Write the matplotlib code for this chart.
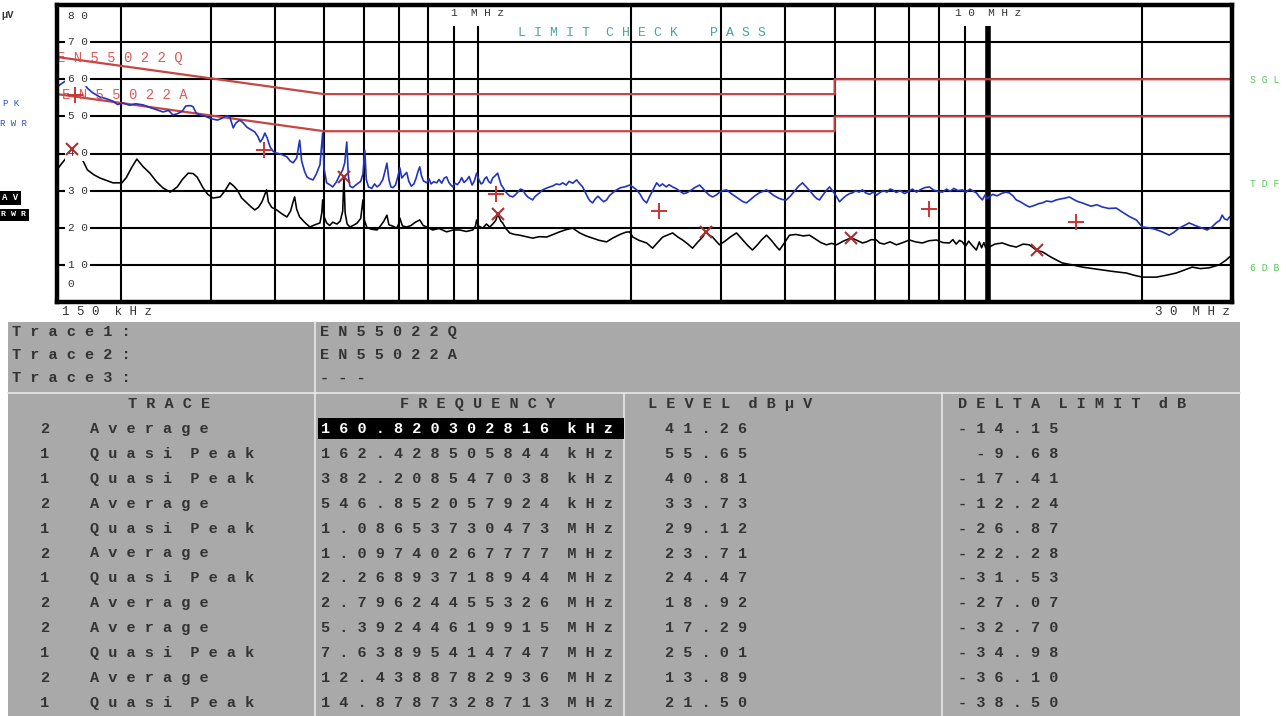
import matplotlib
matplotlib.use("Agg")
import matplotlib.pyplot as plt
from matplotlib.patches import Rectangle
from matplotlib.transforms import blended_transform_factory

W, H = 1286, 716
MONO = "Liberation Mono"

# ---- scan traces (MHz, dBuV) ----
pk_freq = [0.150, 0.153, 0.157, 0.161, 0.165, 0.168, 0.172, 0.176, 0.182, 0.187,
           0.193, 0.197, 0.202, 0.208, 0.214, 0.221, 0.228, 0.235, 0.242, 0.248,
           0.253, 0.258, 0.264, 0.268, 0.274, 0.277, 0.281, 0.286, 0.293, 0.300,
           0.309, 0.316, 0.322, 0.327, 0.330, 0.332, 0.336, 0.342, 0.347, 0.353,
           0.359, 0.366, 0.371, 0.375, 0.379, 0.383, 0.387, 0.392, 0.398, 0.404,
           0.412, 0.423, 0.429, 0.435, 0.442, 0.448, 0.452, 0.458, 0.463, 0.469,
           0.476, 0.483, 0.491, 0.497, 0.500, 0.506, 0.513, 0.520, 0.528, 0.536,
           0.544, 0.549, 0.554, 0.558, 0.562, 0.569, 0.578, 0.590, 0.596, 0.601,
           0.605, 0.611, 0.620, 0.628, 0.635, 0.643, 0.652, 0.659, 0.664, 0.670,
           0.676, 0.682, 0.690, 0.697, 0.704, 0.710, 0.718, 0.726, 0.733, 0.741,
           0.750, 0.758, 0.764, 0.770, 0.776, 0.783, 0.795, 0.803, 0.810, 0.820,
           0.831, 0.840, 0.850, 0.860, 0.869, 0.878, 0.886, 0.894, 0.902, 0.912,
           0.922, 0.930, 0.940, 0.952, 0.962, 0.975, 0.985, 0.995, 1.005, 1.015,
           1.023, 1.032, 1.041, 1.050, 1.060, 1.070, 1.082, 1.094, 1.103, 1.112,
           1.119, 1.130, 1.142, 1.155, 1.171, 1.185, 1.200, 1.212, 1.225, 1.240,
           1.255, 1.270, 1.281, 1.295, 1.310, 1.322, 1.340, 1.360, 1.383, 1.405,
           1.425, 1.447, 1.467, 1.490, 1.510, 1.535, 1.562, 1.580, 1.605, 1.625,
           1.645, 1.660, 1.679, 1.700, 1.720, 1.745, 1.765, 1.788, 1.810, 1.837,
           1.870, 1.905, 1.940, 1.984, 2.012, 2.048, 2.080, 2.110, 2.142, 2.170,
           2.200, 2.241, 2.270, 2.300, 2.340, 2.370, 2.408, 2.450, 2.490, 2.530,
           2.565, 2.610, 2.660, 2.719, 2.760, 2.800, 2.840, 2.883, 2.930, 2.980,
           3.020, 3.072, 3.130, 3.190, 3.260, 3.310, 3.360, 3.420, 3.490, 3.560,
           3.620, 3.678, 3.740, 3.810, 3.880, 3.950, 4.024, 4.100, 4.180, 4.250,
           4.326, 4.400, 4.480, 4.560, 4.620, 4.670, 4.730, 4.800, 4.886, 4.950,
           5.030, 5.111, 5.180, 5.260, 5.346, 5.420, 5.500, 5.580, 5.669, 5.750,
           5.850, 5.950, 6.039, 6.122, 6.220, 6.330, 6.420, 6.488, 6.600, 6.720,
           6.850, 6.980, 7.100, 7.229, 7.350, 7.500, 7.665, 7.800, 7.950, 8.129,
           8.280, 8.420, 8.560, 8.720, 8.894, 9.050, 9.200, 9.350, 9.473, 9.600,
           9.732, 9.850, 9.950, 10.04, 10.20, 10.40, 10.60, 10.80, 10.99, 11.17,
           11.34, 11.55, 11.80, 12.03, 12.30, 12.55, 12.76, 13.00, 13.30, 13.59,
           13.90, 14.15, 14.40, 14.70, 15.00, 15.27, 15.60, 15.90, 16.30, 16.71,
           17.20, 17.80, 18.30, 18.90, 19.49, 20.02, 20.60, 21.20, 21.90, 22.60,
           23.10, 23.64, 24.20, 24.73, 25.40, 26.22, 26.82, 27.40, 27.93, 28.40,
           28.70, 29.00, 29.36, 29.70, 30.00]
pk_level = [57.9, 58.8, 59.8, 60.5, 60.9, 59.6, 57.6, 56.4, 55.2, 54.8,
            54.1, 53.2, 53.6, 53.0, 53.4, 53.1, 52.4, 51.8, 51.2, 51.6,
            50.4, 50.7, 51.4, 52.8, 52.9, 52.6, 50.9, 50.4, 50.0, 49.4,
            49.0, 49.5, 50.2, 49.8, 48.0, 46.9, 48.2, 49.0, 48.3, 47.1,
            46.5, 45.8, 44.6, 43.1, 44.0, 45.5, 44.2, 41.8, 40.5, 40.1,
            39.8, 39.1, 38.0, 37.5, 38.8, 43.6, 38.0, 35.2, 33.7, 33.2,
            32.9, 34.5, 37.0, 45.5, 36.0, 32.1, 31.6, 31.0, 32.2, 34.0,
            35.6, 37.5, 43.1, 34.0, 31.2, 30.8, 31.6, 32.5, 34.5, 40.9,
            33.0, 31.0, 30.6, 31.8, 31.0, 31.6, 33.0, 35.5, 37.4, 33.0,
            31.0, 30.8, 31.5, 33.6, 36.1, 33.4, 34.2, 34.9, 32.5, 31.2,
            31.8, 33.5, 35.2, 36.4, 34.0, 32.6, 32.1, 33.2, 31.8, 32.4,
            32.1, 33.0, 32.0, 33.4, 33.7, 32.2, 31.5, 31.0, 32.0, 31.6,
            32.4, 33.5, 32.2, 32.9, 33.8, 31.5, 32.6, 34.7, 33.0, 31.8,
            32.1, 33.2, 33.7, 32.5, 32.0, 33.4, 34.0, 34.7, 33.0, 31.5,
            31.0, 30.0, 29.2, 28.6, 28.3, 28.9, 29.7, 30.4, 30.2, 29.0,
            28.2, 27.8, 27.5, 28.4, 29.0, 29.4, 30.2, 30.6, 31.0, 31.3,
            31.8, 31.6, 32.1, 31.5, 32.5, 32.0, 32.9, 32.0, 31.0, 29.5,
            28.0, 27.2, 26.7, 27.8, 28.5, 27.6, 27.0, 27.5, 28.6, 29.4,
            30.2, 30.8, 31.0, 31.5, 31.0, 30.2, 29.0, 27.5, 26.7, 28.4,
            30.0, 32.1, 31.2, 31.8, 31.0, 31.6, 31.0, 30.5, 29.8, 29.2,
            29.4, 30.0, 30.8, 31.5, 30.6, 29.6, 28.8, 28.3, 28.8, 29.6,
            30.0, 30.2, 29.3, 28.5, 27.6, 27.0, 26.7, 27.6, 28.6, 29.4,
            29.8, 30.2, 29.4, 28.6, 28.0, 27.6, 27.5, 28.6, 30.0, 31.2,
            32.1, 31.0, 29.8, 28.5, 27.8, 27.5, 28.6, 29.8, 31.0, 30.0,
            28.6, 27.0, 27.8, 28.6, 29.2, 29.4, 30.0, 29.6, 30.2, 29.4,
            29.0, 29.6, 28.8, 29.4, 30.0, 29.6, 30.4, 30.2, 29.5, 30.0,
            29.2, 29.8, 30.4, 29.6, 30.2, 30.8, 31.0, 30.2, 29.8, 29.6,
            30.4, 29.8, 30.6, 30.0, 30.2, 29.6, 30.4, 29.8, 29.4, 28.4,
            27.5, 28.8, 27.8, 28.3, 29.0, 28.6, 29.2, 29.6, 29.4, 28.6,
            27.5, 27.0, 26.2, 25.6, 26.0, 26.5, 26.7, 27.2, 27.0, 27.5,
            27.8, 28.0, 28.3, 27.6, 27.0, 26.7, 26.2, 25.8, 26.2, 25.6,
            25.2, 25.3, 24.2, 23.0, 22.1, 20.2, 20.0, 19.6, 18.9, 18.0,
            18.8, 19.9, 20.6, 21.3, 20.6, 19.9, 19.4, 20.2, 21.3, 22.0,
            23.4, 22.4, 22.1, 23.0, 22.6]

av_freq = [0.150, 0.153, 0.157, 0.160, 0.163, 0.166, 0.169, 0.172, 0.177, 0.182,
           0.187, 0.193, 0.201, 0.205, 0.210, 0.215, 0.221, 0.228, 0.235, 0.242,
           0.250, 0.258, 0.264, 0.271, 0.277, 0.282, 0.290, 0.296, 0.303, 0.313,
           0.320, 0.327, 0.333, 0.338, 0.345, 0.353, 0.360, 0.366, 0.372, 0.378,
           0.383, 0.386, 0.389, 0.395, 0.404, 0.413, 0.423, 0.430, 0.435, 0.438,
           0.442, 0.448, 0.458, 0.469, 0.480, 0.491, 0.495, 0.497, 0.500, 0.506,
           0.513, 0.520, 0.530, 0.538, 0.544, 0.547, 0.550, 0.555, 0.562, 0.570,
           0.580, 0.590, 0.596, 0.600, 0.607, 0.620, 0.635, 0.645, 0.655, 0.664,
           0.670, 0.680, 0.694, 0.700, 0.704, 0.712, 0.726, 0.740, 0.755, 0.770,
           0.782, 0.795, 0.816, 0.840, 0.869, 0.895, 0.922, 0.950, 0.978, 0.990,
           0.995, 1.003, 1.023, 1.040, 1.056, 1.070, 1.085, 1.094, 1.100, 1.110,
           1.119, 1.135, 1.155, 1.180, 1.208, 1.245, 1.281, 1.320, 1.365, 1.405,
           1.447, 1.490, 1.534, 1.560, 1.584, 1.630, 1.679, 1.730, 1.788, 1.837,
           1.900, 1.950, 1.984, 2.012, 2.070, 2.142, 2.200, 2.250, 2.303, 2.350,
           2.408, 2.460, 2.519, 2.580, 2.634, 2.700, 2.757, 2.796, 2.840, 2.883,
           2.930, 2.976, 3.050, 3.130, 3.212, 3.300, 3.380, 3.452, 3.530, 3.600,
           3.678, 3.760, 3.830, 3.899, 3.990, 4.079, 4.200, 4.340, 4.464, 4.580,
           4.700, 4.820, 4.930, 5.042, 5.200, 5.392, 5.530, 5.669, 5.772, 5.900,
           6.039, 6.122, 6.250, 6.420, 6.606, 6.800, 7.005, 7.200, 7.427, 7.650,
           7.911, 8.150, 8.388, 8.520, 8.650, 8.780, 8.894, 9.020, 9.150, 9.300,
           9.473, 9.600, 9.700, 9.800, 9.880, 9.960, 10.04, 10.30, 10.65, 11.00,
           11.34, 11.70, 12.03, 12.44, 12.76, 13.30, 13.96, 14.60, 15.27, 16.00,
           16.71, 17.60, 18.63, 19.30, 20.02, 21.32, 22.30, 23.33, 24.20, 25.07,
           26.00, 27.06, 28.31, 29.22, 29.70, 30.00]
av_level = [35.6, 37.2, 39.1, 40.6, 41.5, 40.0, 37.8, 35.6, 34.3, 33.4,
            32.8, 32.1, 32.1, 33.5, 36.2, 38.5, 36.5, 34.7, 32.4, 30.7,
            29.6, 31.0, 33.0, 34.7, 34.6, 33.7, 30.7, 29.0, 28.0, 28.3,
            30.0, 32.1, 31.2, 30.2, 28.0, 26.7, 25.6, 24.8, 25.5, 27.0,
            29.0, 30.2, 27.0, 25.5, 24.8, 23.8, 22.9, 24.5, 27.0, 28.3,
            25.0, 22.9, 21.5, 20.2, 20.8, 21.3, 24.0, 27.5, 23.0, 21.3,
            20.6, 21.5, 21.0, 21.8, 24.5, 33.7, 24.0, 21.0, 20.2, 20.6,
            21.2, 22.5, 27.5, 22.0, 20.0, 19.6, 19.4, 20.5, 21.8, 23.4,
            20.8, 20.5, 19.9, 21.0, 22.6, 20.5, 20.2, 20.6, 21.5, 22.1,
            20.6, 20.2, 19.4, 19.8, 18.9, 19.4, 19.4, 19.0, 19.4, 20.5,
            22.1, 20.5, 19.9, 21.0, 20.2, 21.0, 22.0, 23.7, 23.0, 21.8,
            21.3, 19.8, 18.6, 18.2, 18.0, 17.6, 17.2, 17.6, 17.5, 18.2,
            18.9, 19.5, 19.9, 19.2, 18.6, 17.8, 17.2, 16.6, 16.2, 17.2,
            18.2, 18.8, 18.9, 17.5, 16.6, 15.9, 14.5, 16.0, 17.5, 18.0,
            18.6, 17.6, 16.7, 15.6, 14.5, 16.2, 17.5, 18.9, 18.0, 17.5,
            16.4, 15.4, 16.4, 17.6, 18.6, 16.8, 15.2, 14.0, 15.4, 16.8,
            18.0, 16.6, 15.2, 14.0, 16.0, 18.0, 18.2, 17.8, 18.0, 17.0,
            16.0, 15.4, 15.8, 15.4, 16.4, 17.3, 16.6, 15.9, 16.2, 16.8,
            16.7, 15.9, 15.6, 16.2, 15.4, 16.0, 16.7, 16.2, 15.9, 16.5,
            16.7, 16.0, 15.9, 16.8, 15.6, 16.6, 16.2, 15.0, 16.4, 15.2,
            14.0, 16.2, 14.6, 16.0, 14.6, 15.8, 14.8, 15.6, 15.9, 15.2,
            14.8, 15.6, 15.4, 13.9, 13.5, 12.0, 10.5, 10.0, 9.4, 9.0,
            8.6, 8.2, 7.8, 7.2, 6.7, 6.7, 7.2, 7.8, 8.6, 9.4,
            9.0, 9.2, 10.0, 11.3, 12.2, 11.8]

# ---- EN55022 class B limit lines ----
lim_q_freq = [0.15, 0.5, 5.0, 5.0, 30.0]
lim_q_level = [66, 56, 56, 60, 60]
lim_a_freq = [0.15, 0.5, 5.0, 5.0, 30.0]
lim_a_level = [56, 46, 46, 50, 50]

grid_freqs = [0.2, 0.3, 0.4, 0.5, 0.6, 0.7, 0.8, 0.9, 1, 2, 3, 4, 5, 6, 7, 8, 9, 20]
grid_levels = [10, 20, 30, 40, 50, 60, 70]
ytick_values = [80, 70, 60, 50, 40, 30, 20, 10, 0]

# ---- final measurement table ----
trace_rows = ["Trace1:", "Trace2:", "Trace3:"]
trace_limits = ["EN55022Q", "EN55022A", "---"]
headers = ["TRACE", "FREQUENCY", "LEVEL dBµV", "DELTA LIMIT dB"]
meas_trace = [2, 1, 1, 2, 1, 2, 1, 2, 2, 1, 2, 1]
meas_det = ["Average", "Quasi Peak", "Quasi Peak", "Average", "Quasi Peak", "Average",
            "Quasi Peak", "Average", "Average", "Quasi Peak", "Average", "Quasi Peak"]
meas_freq = ["160.820302816 kHz", "162.428505844 kHz", "382.208547038 kHz",
             "546.852057924 kHz", "1.08653730473 MHz", "1.09740267777 MHz",
             "2.26893718944 MHz", "2.79624455326 MHz", "5.39244619915 MHz",
             "7.63895414747 MHz", "12.4388782936 MHz", "14.8787328713 MHz"]
meas_level = [41.26, 55.65, 40.81, 33.73, 29.12, 23.71, 24.47, 18.92, 17.29, 25.01, 13.89, 21.50]
meas_delta = [-14.15, -9.68, -17.41, -12.24, -26.87, -22.28, -31.53, -27.07, -32.70, -34.98, -36.10, -38.50]


def spaced(s):
    # screen font has very wide letter pitch
    return "  ".join(" ".join(w) for w in s.split(" "))


def to_mhz(s):
    val, unit = s.split()
    return float(val) * (1e-3 if unit == "kHz" else 1.0)


fig = plt.figure(figsize=(W / 100, H / 100), dpi=100)
fig.patch.set_facecolor("white")

# ---- spectrum plot ----
ax = fig.add_axes([57 / W, 1 - 302 / H, 1175 / W, 297 / H])
ax.set_xscale("log")
ax.set_xlim(0.15, 30)
ax.set_ylim(0, 80)
ax.xaxis.set_major_locator(plt.NullLocator())
ax.xaxis.set_minor_locator(plt.NullLocator())
ax.set_yticks([])
for s in ax.spines.values():
    s.set_linewidth(3.2)
    s.set_zorder(7)

for f in grid_freqs:
    ax.axvline(f, color="black", lw=1.5, zorder=1)
ax.axvline(10, color="black", lw=4, zorder=1)
for v in grid_levels:
    ax.axhline(v, color="black", lw=1.5, zorder=1)

ax.plot(lim_q_freq, lim_q_level, color="#c84545", lw=1.6, zorder=2)
ax.plot(lim_a_freq, lim_a_level, color="#c84545", lw=1.6, zorder=2)
ax.plot(av_freq, av_level, color="black", lw=1.15, zorder=3)
ax.plot(pk_freq, pk_level, color="#2233c0", lw=1.2, zorder=3)

for tr, fs, lv in zip(meas_trace, meas_freq, meas_level):
    if tr == 1:
        ax.plot(to_mhz(fs), lv, marker="+", ms=12, mew=1.4, color="#cc3333", zorder=6)
    else:
        ax.plot(to_mhz(fs), lv, marker="x", ms=9, mew=1.5, color="#a83030", zorder=6)

ytr = blended_transform_factory(ax.transAxes, ax.transData)
for v in ytick_values:
    yy, va = v, "center"
    if v == max(ytick_values):
        yy, va = v - 1.5, "top"
    elif v == min(ytick_values):
        yy, va = 3.5, "bottom"
    ax.text(0.009, yy, spaced(str(v)), transform=ytr, ha="left", va=va,
            family=MONO, fontsize=8, color="#333333", zorder=5,
            bbox=dict(fc="white", ec="none", pad=1.5))

xtr = blended_transform_factory(ax.transData, ax.transAxes)
for f, lab in [(1, "1 MHz"), (10, "10 MHz")]:
    ax.text(f, 0.99, spaced(lab), transform=xtr, ha="center", va="top",
            family=MONO, fontsize=8, color="#333333", zorder=5,
            bbox=dict(fc="white", ec="none", pad=6))
ax.text(0.004, -0.012, spaced("150 kHz"), transform=ax.transAxes, ha="left", va="top",
        family=MONO, fontsize=9, color="#333333")
ax.text(0.998, -0.012, spaced("30 MHz"), transform=ax.transAxes, ha="right", va="top",
        family=MONO, fontsize=9, color="#333333")

ax.text(0.0, 65.7, spaced(trace_limits[0]), transform=ytr, ha="left", va="center",
        family=MONO, fontsize=10, color="#d84a4a", zorder=5, alpha=0.9)
ax.text(0.004, 55.8, spaced(trace_limits[1]), transform=ytr, ha="left", va="center",
        family=MONO, fontsize=10, color="#d84a4a", zorder=5, alpha=0.9)

# ---- screen annotations and table, in pixel coordinates ----
pix = fig.add_axes([0, 0, 1, 1])
pix.set_xlim(0, W)
pix.set_ylim(H, 0)
pix.axis("off")

pix.text(518, 33, spaced("LIMIT CHECK  PASS"), ha="left", va="center",
         family=MONO, fontsize=9.5, color="#45a5a5")
pix.text(1, 15, "µV", ha="left", va="center", family=MONO, fontsize=7.5,
         color="#333333", weight="bold")
pix.text(3, 104, spaced("PK"), ha="left", va="center", family=MONO, fontsize=6.5,
         color="#3050c0")
pix.text(0, 123, spaced("RWR"), ha="left", va="center", family=MONO, fontsize=6.5,
         color="#3050c0")
pix.text(2, 198, spaced("AV"), ha="left", va="center", family=MONO, fontsize=6.5,
         color="white", weight="bold", bbox=dict(fc="black", ec="none", pad=2))
pix.text(1, 215, spaced("RWR"), ha="left", va="center", family=MONO, fontsize=6,
         color="white", weight="bold", bbox=dict(fc="black", ec="none", pad=2))
for y, lab in [(80, "SGL"), (184, "TDF"), (268, "6DB")]:
    pix.text(1250, y, spaced(lab), ha="left", va="center", family=MONO,
             fontsize=7, color="#55cc55")

pix.add_patch(Rectangle((8, 322), 1232, 400, fc="#a9a9a9", ec="none", zorder=0))
pix.plot([8, 1240], [393, 393], color="#e8e8e8", lw=1.2, zorder=1)
pix.plot([315, 315], [322, 716], color="#e8e8e8", lw=1.2, zorder=1)
pix.plot([624, 624], [393, 716], color="#e8e8e8", lw=1.2, zorder=1)
pix.plot([942, 942], [393, 716], color="#e8e8e8", lw=1.2, zorder=1)

tkw = dict(family=MONO, fontsize=11, color="#333333", weight="bold", va="center", ha="left")
for i, (name, lim) in enumerate(zip(trace_rows, trace_limits)):
    pix.text(12, 332 + 23 * i, spaced(name), **tkw)
    pix.text(320, 332 + 23 * i, spaced(lim), **tkw)

for x, h in zip([128, 400, 648, 958], headers):
    pix.text(x, 404, spaced(h), **tkw)

pix.add_patch(Rectangle((318, 418), 306, 21, fc="black", ec="none", zorder=2))
for i in range(len(meas_trace)):
    y = 429 + 24.9 * i
    pix.text(40, y, str(meas_trace[i]), **tkw)
    pix.text(90, y, spaced(meas_det[i]), **tkw)
    fkw = dict(tkw)
    if i == 0:
        fkw["color"] = "white"
    pix.text(321, y, spaced(meas_freq[i]), zorder=3, **fkw)
    pix.text(665, y, spaced(f"{meas_level[i]:.2f}"), **tkw)
    pix.text(958, y, spaced(f"{meas_delta[i]:6.2f}"), **tkw)

fig.savefig("out.png", dpi=100)
